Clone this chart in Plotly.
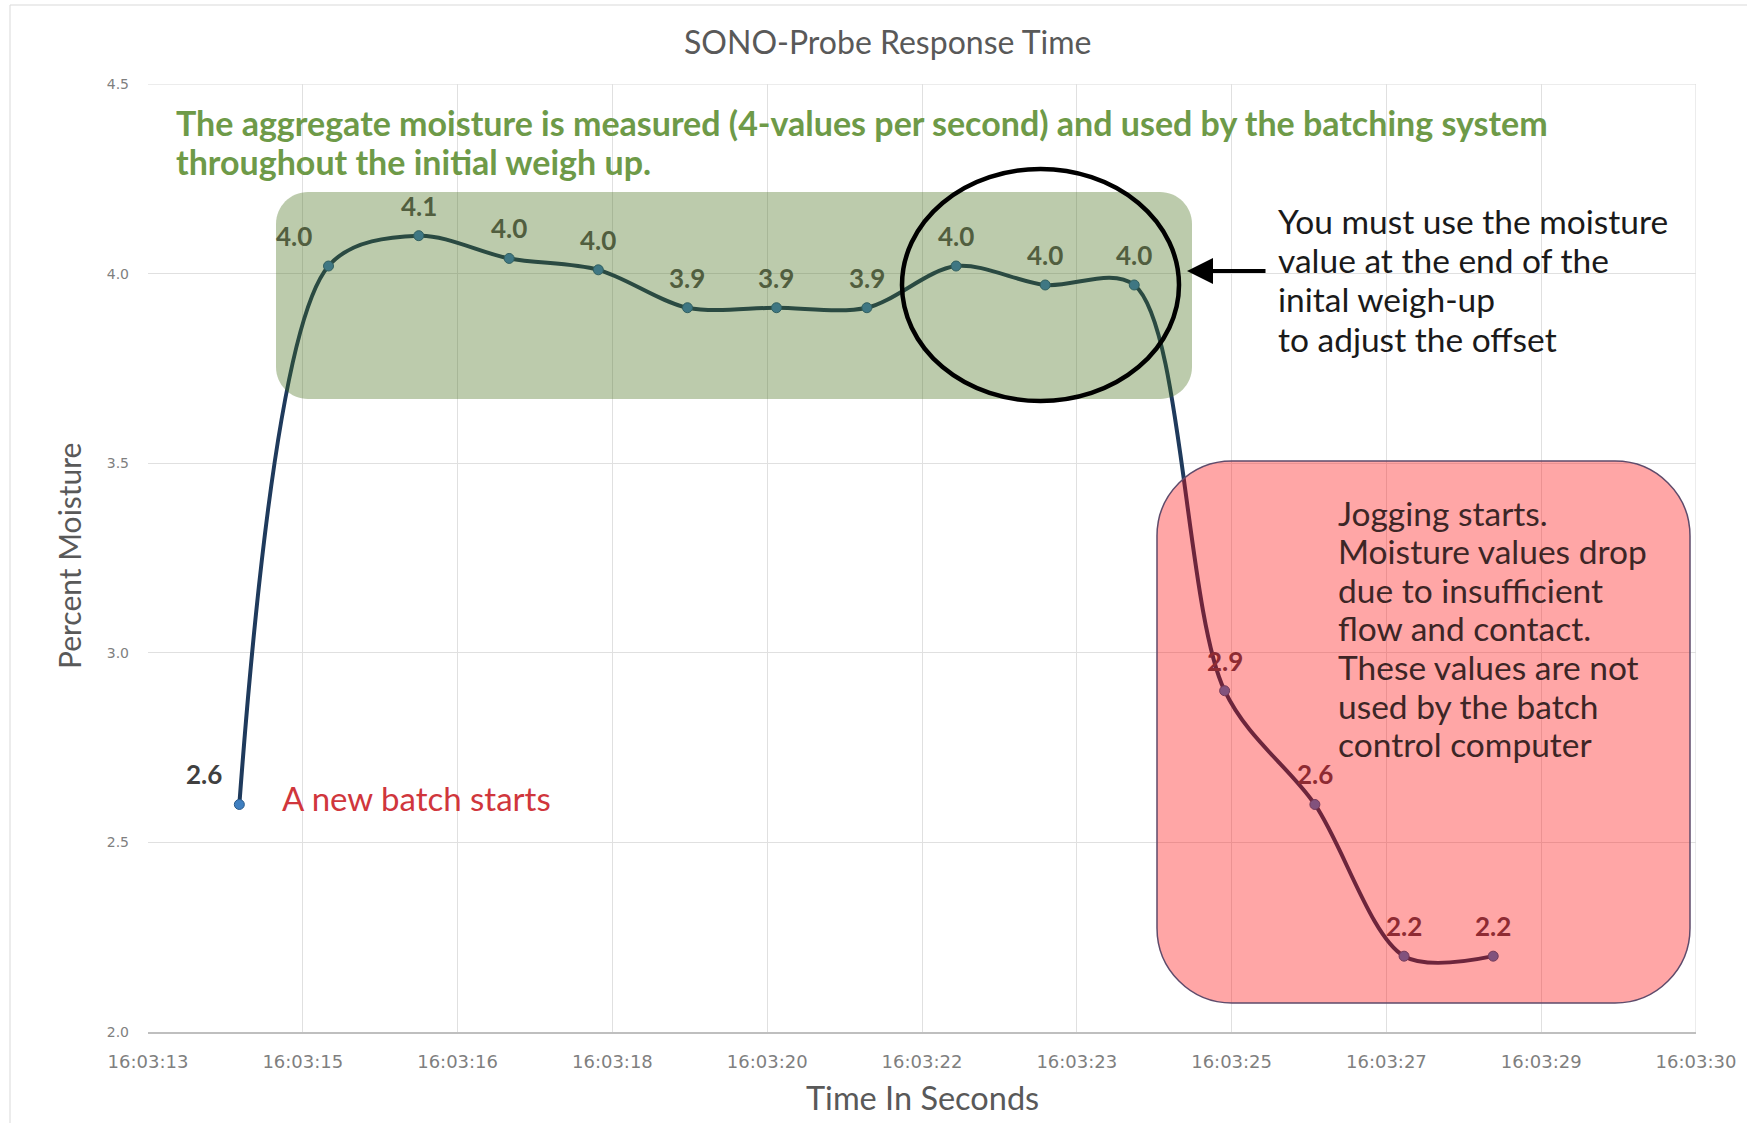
import plotly.graph_objects as go

# ---------------- data ----------------
tick_labels = ["16:03:13", "16:03:15", "16:03:16", "16:03:18", "16:03:20", "16:03:22",
               "16:03:23", "16:03:25", "16:03:27", "16:03:29", "16:03:30"]
tick_vals = list(range(len(tick_labels)))
sample_pos = [0.590, 1.166, 1.749, 2.333, 2.909, 3.485, 4.060, 4.644,
              5.220, 5.796, 6.371, 6.955, 7.538, 8.114, 8.690]
moisture = [2.60, 4.02, 4.10, 4.04, 4.01, 3.91, 3.91, 3.91,
            4.02, 3.97, 3.97, 2.90, 2.60, 2.20, 2.20]
label_zone = ["none", "green", "green", "green", "green", "green", "green", "green",
              "green", "green", "green", "red", "red", "red", "red"]
label_side = ["left", "left"] + ["top"] * 13

heading_lines = ["The aggregate moisture is measured (4-values per second) and used by the batching system",
                 "throughout the initial weigh up."]
note_lines = ["You must use the moisture", "value at the end of the",
              "inital weigh-up", "to adjust the offset"]
jog_lines = ["Jogging starts.", "Moisture values drop", "due to insufficient",
             "flow and contact.", "These values are not", "used by the batch",
             "control computer"]

# ---------------- geometry / style ----------------
W, H = 1747, 1123
L, R, T, B = 148, 51, 84, 91
PW, PH = W - L - R, H - T - B
XMIN, XMAX = 0, 10
YMIN, YMAX = 2.0, 4.5

def px2x(p):
    return XMIN + (p - L) / PW * (XMAX - XMIN)

def py2y(p):
    return YMAX - (p - T) / PH * (YMAX - YMIN)

def pxp(p):
    return (p - L) / PW

def pyp(p):
    return (H - B - p) / PH

def rrect(x0, y0, x1, y1, r):
    k = 0.5523 * r
    def P(x, y):
        return f"{px2x(x):.5f},{py2y(y):.5f}"
    d = f"M {P(x0 + r, y0)} L {P(x1 - r, y0)} "
    d += f"C {P(x1 - r + k, y0)} {P(x1, y0 + r - k)} {P(x1, y0 + r)} "
    d += f"L {P(x1, y1 - r)} "
    d += f"C {P(x1, y1 - r + k)} {P(x1 - r + k, y1)} {P(x1 - r, y1)} "
    d += f"L {P(x0 + r, y1)} "
    d += f"C {P(x0 + r - k, y1)} {P(x0, y1 - r + k)} {P(x0, y1 - r)} "
    d += f"L {P(x0, y0 + r)} "
    d += f"C {P(x0, y0 + r - k)} {P(x0 + r - k, y0)} {P(x0 + r, y0)} Z"
    return d

FONT = "Lato"
zone_color = {"none": "#404040", "green": "#515e3f", "red": "#8e2b33"}

fig = go.Figure()
fig.add_trace(go.Scatter(
    x=sample_pos, y=moisture, mode="lines+markers",
    line=dict(color="#1f3a5c", width=4, shape="spline", smoothing=0.9),
    marker=dict(size=10, color="#3f7fc0", line=dict(color="#2a5a8a", width=1)),
    hoverinfo="skip", showlegend=False,
))

annotations = []
for xv, yv, zone, side in zip(sample_pos, moisture, label_zone, label_side):
    annotations.append(dict(
        x=xv, y=yv, xref="x", yref="y", text=f"{yv:.1f}", showarrow=False,
        xshift=-35 if side == "left" else 0, yshift=30,
        font=dict(family=FONT, size=26, color=zone_color[zone], weight="bold"),
    ))

def ptext(xpx, ypx, text, size, color, weight="normal", xanchor="left", angle=0):
    annotations.append(dict(x=pxp(xpx), y=pyp(ypx), xref="paper", yref="paper",
                            xanchor=xanchor, yanchor="middle", text=text, showarrow=False,
                            textangle=angle,
                            font=dict(family=FONT, size=size, color=color, weight=weight)))

# title and axis titles
ptext(887, 41, "SONO-Probe Response Time", 32, "#595959", xanchor="center")
ptext(922, 1097, "Time In Seconds", 32.5, "#595959", xanchor="center")
ptext(69, 556, "Percent Moisture", 30, "#595959", xanchor="center", angle=-90)

# green heading
for i, ln in enumerate(heading_lines):
    ptext(174, 122.6 + i * 39, ln, 34, "#6e9a48", weight="bold")
# right note
for i, ln in enumerate(note_lines):
    ptext(1276, 220.6 + i * 39.4, ln, 33.5, "#1a1a1a")
# red box note
for i, ln in enumerate(jog_lines):
    ptext(1336, 512.5 + i * 38.6, ln, 33.5, "#3d2626")
# new batch note
ptext(280, 797.7, "A new batch starts", 33, "#d0363c")

# arrow
annotations.append(dict(x=px2x(1187), y=py2y(271), xref="x", yref="y",
                        ax=80, ay=0, axref="pixel", ayref="pixel", text="",
                        showarrow=True, arrowhead=2, arrowsize=1.3, arrowwidth=4,
                        arrowcolor="#000000"))

shapes = [
    # outer faint frame
    dict(type="rect", xref="paper", yref="paper",
         x0=pxp(10), x1=pxp(W + 20), y0=pyp(H + 20), y1=pyp(5),
         line=dict(color="#d9d9d9", width=1), fillcolor="rgba(0,0,0,0)", layer="below"),
    # green highlight box
    dict(type="path", xref="x", yref="y", path=rrect(276, 192, 1192, 399, 32),
         fillcolor="rgba(63,106,17,0.35)", line=dict(width=0), layer="above"),
    # red highlight box
    dict(type="path", xref="x", yref="y", path=rrect(1157, 461, 1690, 1003, 75),
         fillcolor="rgba(255,0,0,0.35)", line=dict(color="#5f4b6b", width=1.5), layer="above"),
    # ellipse
    dict(type="circle", xref="x", yref="y",
         x0=px2x(902), x1=px2x(1179), y0=py2y(169), y1=py2y(401),
         line=dict(color="#000000", width=4.5), fillcolor="rgba(0,0,0,0)", layer="above"),
    # right and top plot frame
    dict(type="line", xref="x", yref="y", x0=XMAX, x1=XMAX, y0=YMIN, y1=YMAX,
         line=dict(color="#d9d9d9", width=1), layer="below"),
    dict(type="line", xref="x", yref="y", x0=XMIN, x1=XMAX, y0=YMAX, y1=YMAX,
         line=dict(color="#d9d9d9", width=1), layer="below"),
]

fig.update_layout(
    width=W, height=H,
    margin=dict(l=L, r=R, t=T, b=B),
    paper_bgcolor="white", plot_bgcolor="white",
    font=dict(family=FONT),
    showlegend=False,
    annotations=annotations, shapes=shapes,
    xaxis=dict(range=[XMIN, XMAX], tickvals=tick_vals, ticktext=tick_labels,
               showgrid=True, gridcolor="#e0e0e0", gridwidth=1,
               showline=True, linecolor="#bfbfbf", linewidth=1.5, zeroline=False,
               ticks="", ticklabelstandoff=13,
               tickfont=dict(family="DejaVu Sans", size=18, color="#7f7f7f")),
    yaxis=dict(range=[YMIN, YMAX], dtick=0.5, tickformat=".1f",
               showgrid=True, gridcolor="#e0e0e0", gridwidth=1,
               showline=False, zeroline=False, ticks="", ticklabelstandoff=18,
               tickfont=dict(family="DejaVu Sans", size=14, color="#7f7f7f")),
)

fig.write_html("out.html")
